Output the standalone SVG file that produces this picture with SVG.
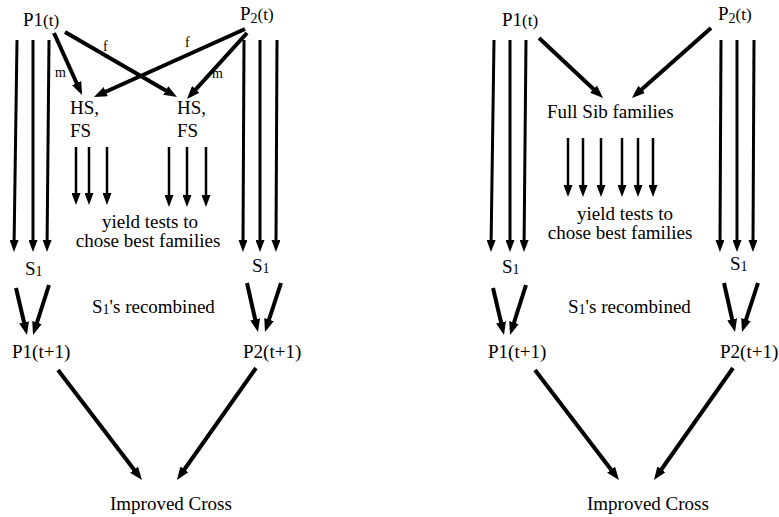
<svg xmlns="http://www.w3.org/2000/svg" width="779" height="517" viewBox="0 0 779 517">
<style>
text{font-family:"Liberation Serif","Times New Roman",serif;font-size:19px;fill:#000}
.sm{font-size:14px}
.sub{font-size:14px}
.par{font-size:17px}
.c{text-anchor:middle}
.v{stroke:#000;stroke-width:3;fill:none;marker-end:url(#ah)}
.s{stroke:#000;stroke-width:2.5;fill:none;marker-end:url(#ah)}
.b{stroke:#000;stroke-width:4;fill:none;marker-end:url(#ahB)}
</style>
<defs>
<marker id="ah" viewBox="0 0 12 9" refX="2" refY="4.5" markerWidth="12" markerHeight="9" markerUnits="userSpaceOnUse" orient="auto"><path d="M0,0 L12,4.5 L0,9 z" fill="#000"/></marker>
<marker id="ahB" viewBox="0 0 13 10" refX="2" refY="5" markerWidth="13" markerHeight="10" markerUnits="userSpaceOnUse" orient="auto"><path d="M0,0 L13,5 L0,10 z" fill="#000"/></marker>
</defs>
<rect width="779" height="517" fill="#fff"/>
<g id="connectors">
<!-- left panel -->
<line class="v" x1="17" y1="40" x2="14.1" y2="242"/>
<line class="v" x1="33" y1="40" x2="33" y2="242"/>
<line class="v" x1="49" y1="40" x2="47.1" y2="242"/>
<line class="v" x1="244" y1="40" x2="243" y2="242"/>
<line class="v" x1="260" y1="40" x2="260" y2="242"/>
<line class="v" x1="277" y1="40" x2="276" y2="242"/>
<line class="b" x1="54" y1="33" x2="77.5" y2="85"/>
<line class="b" x1="65" y1="32" x2="167.5" y2="91.5"/>
<line class="b" x1="245" y1="29" x2="104" y2="92.5"/>
<line class="b" x1="247" y1="33" x2="194.4" y2="90.9"/>
<line class="s" x1="76" y1="147" x2="76" y2="195"/>
<line class="s" x1="89" y1="147" x2="89" y2="195"/>
<line class="s" x1="107" y1="147" x2="107" y2="195"/>
<line class="s" x1="169" y1="147" x2="169" y2="197"/>
<line class="s" x1="187" y1="147" x2="187" y2="197"/>
<line class="s" x1="206" y1="147" x2="206" y2="197"/>
<line class="b" x1="16" y1="288" x2="24.5" y2="324.3"/>
<line class="b" x1="49" y1="285" x2="36.4" y2="324.5"/>
<line class="b" x1="247" y1="283" x2="255.6" y2="321.3"/>
<line class="b" x1="281" y1="283" x2="268.4" y2="321.5"/>
<line class="b" x1="58" y1="370" x2="135.3" y2="471.3"/>
<line class="b" x1="256" y1="368" x2="183.3" y2="471"/>
<!-- right panel -->
<line class="v" x1="494" y1="40" x2="491.1" y2="242"/>
<line class="v" x1="510" y1="40" x2="510" y2="242"/>
<line class="v" x1="526" y1="40" x2="524.1" y2="242"/>
<line class="v" x1="721" y1="40" x2="720" y2="242"/>
<line class="v" x1="737" y1="40" x2="737" y2="242"/>
<line class="v" x1="754" y1="40" x2="753" y2="242"/>
<line class="b" x1="539" y1="38" x2="595" y2="90.5"/>
<line class="b" x1="711" y1="28" x2="640.2" y2="90.7"/>
<line class="s" x1="568" y1="138" x2="568" y2="187"/>
<line class="s" x1="583" y1="138" x2="583" y2="187"/>
<line class="s" x1="601" y1="138" x2="601" y2="187"/>
<line class="s" x1="622" y1="138" x2="622" y2="187"/>
<line class="s" x1="638" y1="138" x2="638" y2="187"/>
<line class="s" x1="653" y1="138" x2="653" y2="187"/>
<line class="b" x1="493" y1="288" x2="501.5" y2="324.3"/>
<line class="b" x1="526" y1="285" x2="513.4" y2="324.5"/>
<line class="b" x1="724" y1="283" x2="732.6" y2="321.3"/>
<line class="b" x1="758" y1="283" x2="745.4" y2="321.5"/>
<line class="b" x1="535" y1="370" x2="612.3" y2="471.3"/>
<line class="b" x1="733" y1="368" x2="660.3" y2="471"/>
</g>
<g id="edge-labels">
<text class="sm" x="55" y="77">m</text>
<text class="sm" x="103" y="51">f</text>
<text class="sm" x="185" y="47">f</text>
<text class="sm" x="212" y="78">m</text>
</g>
<g id="L-P1t"><text x="23" y="26">P1<tspan class="par">(t)</tspan></text></g>
<g id="L-P2t"><text x="240" y="20">P<tspan class="sub" dy="3">2</tspan><tspan class="par" dy="-3">(t)</tspan></text></g>
<g id="L-HSFS1"><text x="70" y="114">HS,</text><text x="70" y="137">FS</text></g>
<g id="L-HSFS2"><text x="177" y="114">HS,</text><text x="177" y="137">FS</text></g>
<g id="L-yield"><text class="c" x="150" y="228">yield tests to</text><text class="c" x="148" y="247">chose best families</text></g>
<g id="L-S1a"><text x="25" y="275">S<tspan class="sub" dy="1">1</tspan></text></g>
<g id="L-S1b"><text x="252" y="272">S<tspan class="sub" dy="1">1</tspan></text></g>
<g id="L-recomb"><text x="92" y="313">S<tspan class="sub" dy="1">1</tspan><tspan dy="-1">'s recombined</tspan></text></g>
<g id="L-P1t1"><text x="12" y="358">P1(t+1)</text></g>
<g id="L-P2t1"><text x="243" y="358">P2(t+1)</text></g>
<g id="L-improved"><text x="110" y="510">Improved Cross</text></g>
<g id="R-P1t"><text x="502" y="26">P1<tspan class="par">(t)</tspan></text></g>
<g id="R-P2t"><text x="718" y="20">P<tspan class="sub" dy="3">2</tspan><tspan class="par" dy="-3">(t)</tspan></text></g>
<g id="R-FS"><text x="547" y="118">Full Sib families</text></g>
<g id="R-yield"><text class="c" x="625" y="220">yield tests to</text><text class="c" x="620" y="239">chose best families</text></g>
<g id="R-S1a"><text x="502" y="273">S<tspan class="sub" dy="1">1</tspan></text></g>
<g id="R-S1b"><text x="730" y="270">S<tspan class="sub" dy="1">1</tspan></text></g>
<g id="R-recomb"><text x="568" y="313">S<tspan class="sub" dy="1">1</tspan><tspan dy="-1">'s recombined</tspan></text></g>
<g id="R-P1t1"><text x="488" y="358">P1(t+1)</text></g>
<g id="R-P2t1"><text x="720" y="358">P2(t+1)</text></g>
<g id="R-improved"><text x="587" y="510">Improved Cross</text></g>
</svg>
